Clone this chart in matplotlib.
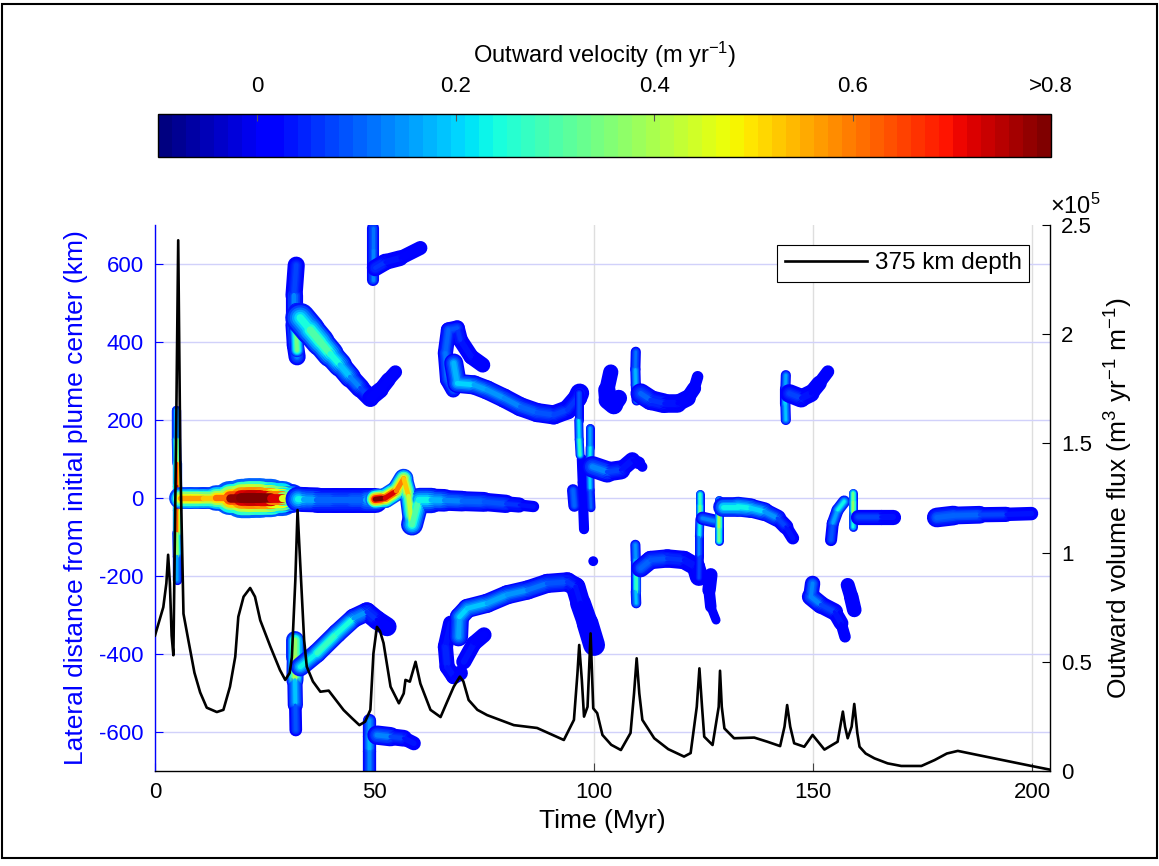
import numpy as np
import matplotlib
matplotlib.use("Agg")
import matplotlib.pyplot as plt
from matplotlib.collections import LineCollection
from matplotlib.colors import Normalize
from matplotlib.patches import Rectangle
from matplotlib import cm

plt.rcParams['font.family'] = ['Liberation Sans', 'DejaVu Sans']
plt.rcParams['axes.unicode_minus'] = False

# plume tracks: (time Myr, lateral position km, outward velocity m/yr)
vert5 = ([4.9, 4.9, 5.0, 5.0, 5.0, 5.0, 5.1, 5.1],
         [225, 150, 90, 30, -30, -90, -150, -210],
         [0.15, 0.25, 0.55, 0.75, 0.75, 0.5, 0.25, 0.08])
core_a = ([5.6, 8, 11, 14, 17, 19.5, 21.5, 24, 26.5, 29, 31, 32.4],
          [0, 0, 0, 0, 0, 0, 0, 0, 0, 0, 0, 0],
          [0.55, 0.6, 0.55, 0.5, 0.72, 0.85, 0.9, 0.9, 0.85, 0.6, 0.3, 0.15])
core_b = ([32.6, 34, 37, 41, 45, 48, 50.2],
          [-3, -4, -5, -5, -5, -5, -5],
          [0.25, 0.2, 0.12, 0.1, 0.1, 0.12, 0.2])
core_c = ([50.2, 52.5, 55.0, 56.7, 57.8, 58.6, 60.1, 63, 66, 70, 75, 80, 83, 86.3],
          [-3, 0, 18, 50, 5, -68, -5, -5, -6, -8, -10, -15, -18, -22],
          [0.85, 0.8, 0.65, 0.55, 0.5, 0.35, 0.25, 0.2, 0.15, 0.12, 0.1, 0.07, 0.05, 0.03])
up_a = ([32.2, 31.7, 31.7, 32.0, 32.4], [597, 520, 444, 392, 362],
        [0.05, 0.1, 0.15, 0.15, 0.1])
up_b = ([32.2, 32.2, 32.4], [482, 431, 379], [0.2, 0.45, 0.25])
up_c = ([33.1, 35.4, 37.7, 40.0, 42.2, 44.5, 46.8, 49.1],
        [462, 431, 400, 369, 341, 310, 282, 256],
        [0.22, 0.27, 0.32, 0.28, 0.22, 0.16, 0.1, 0.05])
up_d = ([49.1, 51.4, 53.2, 54.8], [256, 277, 303, 323], [0.03, 0.02, 0.02, 0.02])
top50_a = ([49.8, 49.8, 49.8], [692, 636, 559], [0.08, 0.15, 0.1])
top50_b = ([50.2, 52.5, 55.9, 60.5], [590, 605, 615, 641], [0.08, 0.05, 0.03, 0.02])
loop70 = ([74.7, 72.1, 69.6, 68.9, 66.9, 66.2, 66.7, 68.0],
          [341, 362, 405, 436, 431, 372, 303, 277],
          [0.02, 0.03, 0.05, 0.07, 0.1, 0.12, 0.12, 0.1])
arc70 = ([68.1, 68.9, 72.7, 75.7, 79.6, 83.3, 87.1, 90.9, 94.0, 96.3, 96.8],
         [346, 294, 290, 277, 256, 234, 219, 213, 226, 256, 269],
         [0.12, 0.22, 0.18, 0.15, 0.13, 0.12, 0.1, 0.08, 0.06, 0.05, 0.05])
drop97 = ([96.6, 96.6, 96.7, 96.9], [269, 200, 150, 110], [0.05, 0.12, 0.3, 0.25])
dark97 = ([97.3, 97.5, 97.6, 97.8], [100, 40, -20, -80], [0.02, 0.0, 0.0, 0.0])
drop99 = ([99.2, 99.2, 99.1, 99.2, 99.4], [180, 130, 80, 20, -25],
          [0.1, 0.22, 0.25, 0.15, 0.05])
blob95 = ([95.3, 95.6], [20, -20], [0.12, 0.1])
tail100 = ([99.7, 103.1, 106.2, 108.8, 110.3, 111.1], [80, 67, 72, 97, 90, 80],
           [0.15, 0.1, 0.06, 0.02, 0.01, 0.01])
blob104 = ([103.9, 103.0, 103.2, 104.6, 105.7], [323, 277, 251, 238, 256],
           [0.0, 0.0, 0.0, 0.0, 0.0])
up110_a = ([109.6, 109.5, 109.6, 109.8], [375, 330, 290, 250], [0.08, 0.15, 0.2, 0.15])
up110_b = ([110.7, 113.0, 116.0, 119.1, 121.4, 122.9, 123.7],
           [268, 251, 243, 243, 256, 281, 311],
           [0.12, 0.08, 0.05, 0.03, 0.02, 0.01, 0.0])
up144_a = ([143.8, 143.7, 143.7, 143.8], [315, 280, 240, 200], [0.12, 0.2, 0.22, 0.15])
up144_b = ([144.6, 147.3, 149.5, 151.4, 153.4], [268, 256, 268, 294, 324],
           [0.1, 0.05, 0.02, 0.0, 0.0])
low32_a = ([32.0, 32.0, 31.9, 32.0, 32.1], [-364, -408, -467, -531, -595],
           [0.2, 0.55, 0.25, 0.12, 0.05])
low32_b = ([33.1, 36.9, 41.5, 45.3, 48.3, 50.6, 52.9],
           [-433, -398, -347, -308, -292, -313, -330],
           [0.2, 0.25, 0.3, 0.2, 0.1, 0.03, 0.02])
low50_a = ([48.9, 48.9, 48.9, 48.9], [-570, -610, -650, -700], [0.1, 0.2, 0.15, 0.1])
low50_b = ([50.6, 53.7, 56.7, 59.0], [-608, -612, -616, -629], [0.15, 0.1, 0.05, 0.02])
hook68 = ([67.4, 66.2, 66.6, 68.1, 69.6], [-321, -381, -433, -458, -449],
          [0.03, 0.05, 0.05, 0.03, 0.02])
branch70 = ([70.4, 72.7, 75.0], [-420, -373, -351], [0.05, 0.03, 0.02])
arc_low = ([69.2, 69.4, 71.2, 75.7, 80.3, 84.9, 89.4, 94.0, 95.9, 97.0, 98.6, 100.1],
           [-356, -305, -283, -270, -248, -236, -219, -215, -228, -270, -321, -377],
           [0.12, 0.2, 0.2, 0.17, 0.15, 0.13, 0.1, 0.08, 0.04, 0.02, 0.0, 0.0])
mid110_a = ([109.5, 109.6, 109.6, 109.6, 109.7], [-120, -160, -200, -240, -270],
            [0.1, 0.2, 0.3, 0.25, 0.12])
mid110_b = ([110.7, 113.0, 116.8, 120.6, 123.3, 124.0], [-180, -159, -155, -159, -176, -202],
            [0.12, 0.1, 0.08, 0.05, 0.03, 0.02])
dark127 = ([126.7, 126.3, 126.7, 127.9], [-197, -236, -279, -313], [0.0, 0.0, 0.0, 0.0])
mid124_a = ([124.2, 124.2, 124.2, 124.1, 124.1, 124.0], [10, -20, -55, -100, -150, -205],
            [0.2, 0.35, 0.3, 0.15, 0.1, 0.05])
mid124_b = ([124.8, 127.5], [-52, -59], [0.15, 0.1])
mid128_a = ([128.5, 128.5, 128.5, 128.5], [-5, -40, -80, -110], [0.15, 0.35, 0.45, 0.2])
mid128_b = ([129.4, 132.8, 135.8, 138.9, 141.9, 143.8, 145.4],
            [-22, -22, -26, -35, -52, -74, -103],
            [0.2, 0.25, 0.22, 0.18, 0.1, 0.05, 0.02])
mid155 = ([154.1, 154.5, 155.6, 157.1], [-108, -65, -31, -9], [0.05, 0.12, 0.2, 0.25])
mid159 = ([159.0, 159.0, 159.0, 159.0], [12, -10, -40, -75], [0.25, 0.4, 0.35, 0.15])
mid160 = ([160.2, 165.5, 168.2], [-48, -48, -48], [0.1, 0.05, 0.03])
late180 = ([178.2, 182, 188, 194, 199.8], [-50, -45, -43, -42, -40],
           [0.1, 0.12, 0.1, 0.06, 0.02])
low150 = ([149.9, 149.5, 151.8, 154.9, 156.4, 157.3], [-219, -253, -274, -292, -321, -356],
          [0.12, 0.15, 0.1, 0.05, 0.02, 0.0])
blob158 = ([157.9, 158.7, 159.4], [-223, -253, -287], [0.0, 0.0, 0.0])
dot100 = ([99.9], [-162], [0.0])

# volume flux at 375 km depth
flux_t = [0, 1.9, 2.6, 3.0, 3.4, 3.8, 4.2, 4.8, 5.3, 5.8, 6.5, 7.6, 9.0, 10.3, 11.8, 14.1,
          15.6, 17.1, 18.3, 19.0, 20.2, 21.7, 22.8, 24.0, 26.3, 28.5, 29.7, 30.7, 31.2,
          32.0, 32.5, 33.3, 34.0, 34.6, 36.0, 37.7, 39.6, 43.0, 45.0, 46.6, 47.9, 49.1,
          49.8, 50.6, 51.3, 52.1, 53.7, 55.6, 56.7, 57.1, 58.1, 59.4, 60.5, 62.8, 65.1,
          66.6, 68.1, 69.5, 70.3, 71.5, 73.5, 75.7, 81.8, 87.1, 93.2, 95.5, 96.3, 96.7,
          97.3, 97.8, 98.6, 99.3, 99.9, 100.8, 102.0, 104.0, 106.2, 108.4, 109.2, 109.8,
          110.4, 111.1, 113.8, 117.0, 120.6, 122.1, 123.5, 124.1, 124.7, 125.2, 127.1,
          128.5, 128.8, 129.2, 129.8, 132.0, 136.6, 139.6, 142.5, 143.5, 144.1, 144.8,
          145.7, 148.0, 149.9, 152.6, 155.6, 156.2, 156.8, 157.3, 157.9, 158.8, 159.4,
          160.1, 160.6, 162.0, 164.0, 167.0, 170.1, 174.7, 177.7, 180.5, 183.0, 187.6,
          199.8, 204.3]
flux_e5 = [0.62, 0.75, 0.86, 0.99, 0.86, 0.62, 0.53, 1.50, 2.43, 1.40, 0.72, 0.60, 0.45,
           0.36, 0.29, 0.27, 0.28, 0.386, 0.523, 0.706, 0.798, 0.838, 0.798, 0.69, 0.57,
           0.462, 0.417, 0.449, 0.52, 0.875, 1.195, 0.875, 0.60, 0.478, 0.41, 0.363, 0.368,
           0.279, 0.24, 0.21, 0.226, 0.28, 0.539, 0.66, 0.64, 0.586, 0.386, 0.31, 0.355,
           0.417, 0.409, 0.50, 0.40, 0.28, 0.247, 0.317, 0.386, 0.432, 0.41, 0.325, 0.28,
           0.256, 0.21, 0.197, 0.142, 0.234, 0.446, 0.577, 0.417, 0.249, 0.294, 0.63, 0.287,
           0.265, 0.165, 0.12, 0.096, 0.174, 0.355, 0.516, 0.355, 0.234, 0.15, 0.10, 0.066,
           0.082, 0.294, 0.47, 0.294, 0.157, 0.119, 0.294, 0.459, 0.294, 0.195, 0.15,
           0.153, 0.134, 0.114, 0.203, 0.302, 0.203, 0.127, 0.111, 0.165, 0.098, 0.134,
           0.203, 0.272, 0.203, 0.15, 0.203, 0.307, 0.173, 0.111, 0.08, 0.058, 0.035, 0.023,
           0.023, 0.05, 0.08, 0.092, 0.073, 0.023, 0.005]

tracks = {
    'vert5': vert5, 'core_a': core_a, 'core_b': core_b, 'core_c': core_c,
    'up_a': up_a, 'up_b': up_b, 'up_c': up_c, 'up_d': up_d,
    'top50_a': top50_a, 'top50_b': top50_b, 'loop70': loop70, 'arc70': arc70,
    'dark97': dark97, 'drop97': drop97, 'drop99': drop99, 'blob95': blob95,
    'tail100': tail100, 'blob104': blob104, 'up110_a': up110_a, 'up110_b': up110_b,
    'up144_a': up144_a, 'up144_b': up144_b, 'low32_a': low32_a, 'low32_b': low32_b,
    'low50_a': low50_a, 'low50_b': low50_b, 'hook68': hook68, 'branch70': branch70,
    'arc_low': arc_low, 'mid110_a': mid110_a, 'mid110_b': mid110_b, 'dark127': dark127,
    'mid124_a': mid124_a, 'mid124_b': mid124_b, 'mid128_a': mid128_a, 'mid128_b': mid128_b,
    'mid155': mid155, 'mid159': mid159, 'mid160': mid160, 'late180': late180,
    'low150': low150, 'blob158': blob158,
}

# drawn band thickness (km on the lateral axis)
band_km = {
    'vert5': 24, 'core_a': [56, 56, 56, 56, 75, 100, 102, 102, 95, 85, 65, 46], 'core_b': 64,
    'core_c': [50, 52, 52, 48, 45, 45, 68, 62, 54, 52, 50, 44, 34, 24],
    'up_a': 44, 'up_b': 36, 'up_c': [78, 75, 72, 65, 58, 52, 47, 44], 'up_d': [44, 39, 36, 33],
    'top50_a': 31, 'top50_b': [44, 42, 39, 33], 'loop70': 39, 'arc70': 49,
    'dark97': 26, 'drop97': 23, 'drop99': 23, 'blob95': 31,
    'tail100': [58, 52, 46, 36, 29, 23], 'blob104': [36, 42, 47, 47, 39],
    'up110_a': 26, 'up110_b': [52, 52, 49, 46, 39, 33, 26],
    'up144_a': 26, 'up144_b': [49, 47, 42, 36, 29], 'low32_a': [46, 46, 42, 36, 29],
    'low32_b': 49, 'low50_a': 34, 'low50_b': [52, 47, 39, 33], 'hook68': 39, 'branch70': 39,
    'arc_low': [49, 49, 49, 49, 49, 49, 49, 49, 49, 52, 55, 57], 'mid110_a': 26,
    'mid110_b': 47, 'dark127': [36, 33, 26, 20], 'mid124_a': 23, 'mid124_b': 34,
    'mid128_a': 23, 'mid128_b': [49, 52, 49, 47, 42, 36, 29], 'mid155': 31, 'mid159': 23,
    'mid160': 39, 'late180': [52, 49, 42, 36, 33], 'low150': [33, 46, 46, 42, 33, 26],
    'blob158': [33, 39, 36],
}

DPI = 100
fig = plt.figure(figsize=(11.59, 8.66), dpi=DPI)
cmap = plt.get_cmap('jet', 64)
norm = Normalize(vmin=-0.1, vmax=0.8)

ax = fig.add_axes([0.1337, 0.1097, 0.7722, 0.6305])
ax.set_xlim(0, 204)
ax.set_ylim(-700, 700)
pt_per_km = (0.6305 * 8.66 * 72) / 1400.0

# velocity bands: blue rim, brighter core
layers = [(1.0, 0.12), (0.85, 0.3), (0.7, 0.48), (0.55, 0.65), (0.4, 0.82), (0.25, 1.0)]
for name, (t, d, v) in tracks.items():
    pts = np.column_stack([t, d]).astype(float)
    v = np.asarray(v, float)
    w = np.broadcast_to(np.asarray(band_km[name], float), v.shape)
    segs = np.stack([pts[:-1], pts[1:]], axis=1)
    vseg = (v[:-1] + v[1:]) / 2
    wseg = (w[:-1] + w[1:]) / 2 * pt_per_km
    for fw, fv in layers:
        lc = LineCollection(segs, linewidths=wseg * fw, colors=cmap(norm(vseg * fv)),
                            capstyle='round', joinstyle='round', zorder=2)
        ax.add_collection(lc)
ax.scatter(dot100[0], dot100[1], s=50, color=cmap(norm(dot100[2][0])), zorder=2,
           edgecolors='none')

blue = (0, 0, 1)
ax.set_xticks([0, 50, 100, 150, 200])
ax.set_yticks(np.arange(-600, 601, 200))
ax.set_axisbelow(True)
ax.yaxis.grid(True, color=(0.82, 0.82, 0.98), lw=1.0)
ax.xaxis.grid(True, color=(0.87, 0.87, 0.87), lw=1.0)
ax.spines['top'].set_visible(False)
ax.spines['right'].set_visible(False)
ax.spines['left'].set_color(blue)
ax.spines['left'].set_linewidth(1.0)
ax.spines['bottom'].set_linewidth(1.0)
ax.tick_params(axis='y', direction='in', length=6, color=blue, labelcolor=blue,
               labelsize=16, pad=8)
ax.tick_params(axis='x', direction='in', length=6, color='#444444', labelsize=16, pad=8)
ax.set_xlabel('Time (Myr)', fontsize=19, labelpad=4)
ax.set_ylabel('Lateral distance from initial plume center (km)', fontsize=19,
              color=blue, labelpad=8)

ax2 = ax.twinx()
for s in ['left', 'top', 'bottom']:
    ax2.spines[s].set_visible(False)
ax2.spines['right'].set_linewidth(1.0)
ax2.plot(flux_t, np.asarray(flux_e5) * 1e5, color='k', lw=1.9, label='375 km depth',
         solid_joinstyle='round')
ax2.set_ylim(0, 2.5e5)
ax2.set_yticks([0, 0.5e5, 1e5, 1.5e5, 2e5, 2.5e5])
ax2.set_yticklabels(['0', '0.5', '1', '1.5', '2', '2.5'])
ax2.tick_params(axis='y', direction='in', length=6, labelsize=16, pad=8)
ax2.set_ylabel(r'Outward volume flux (m$\mathregular{^3}$ yr$\mathregular{^{-1}}$ m$\mathregular{^{-1}}$)',
               fontsize=19, labelpad=8)
ax2.text(1.0, 1.012, r'×10$\mathregular{^5}$', transform=ax2.transAxes,
         ha='left', va='bottom', fontsize=17)
leg = ax2.legend(loc='upper right', bbox_to_anchor=(0.9765, 0.963), borderaxespad=0,
                 fontsize=17.5, handlelength=3.4, handletextpad=0.3, borderpad=0.3,
                 fancybox=False, framealpha=1, edgecolor='k')
leg.get_frame().set_linewidth(0.8)

cax = fig.add_axes([0.1363, 0.8187, 0.7705, 0.0497])
cb = fig.colorbar(cm.ScalarMappable(norm=norm, cmap=cmap), cax=cax, orientation='horizontal')
cb.set_ticks([0, 0.2, 0.4, 0.6, 0.8])
cb.set_ticklabels(['0', '0.2', '0.4', '0.6', '>0.8'])
cax.xaxis.set_ticks_position('top')
cax.xaxis.set_label_position('top')
cax.tick_params(direction='in', length=5, color='#555555', labelsize=16, pad=12)
cb.set_label(r'Outward velocity (m yr$\mathregular{^{-1}}$)', fontsize=17, labelpad=10)
cb.outline.set_linewidth(1.0)

fig.add_artist(Rectangle((0.0017, 0.0092), 0.9966, 0.9858, transform=fig.transFigure,
                         fill=False, edgecolor='k', lw=1.5))

fig.savefig('out.png', dpi=DPI)
